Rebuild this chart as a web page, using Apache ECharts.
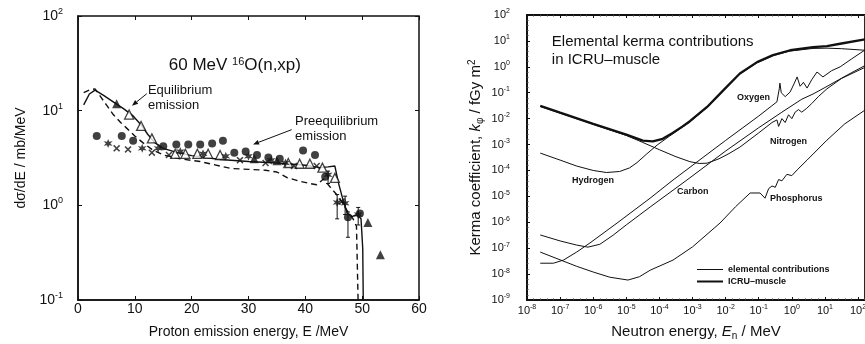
<!DOCTYPE html>
<html><head><meta charset="utf-8">
<script src="https://cdn.jsdelivr.net/npm/echarts@6/dist/echarts.min.js"></script>
<style>html,body{margin:0;padding:0;background:#fff}#c{width:865px;height:344px}</style>
</head><body><div id="c"></div>
<script>
// ===== Left panel: 60 MeV 16O(n,xp); E (MeV), dsigma/dE (mb/MeV)
const leftXRange = [0, 60];
const leftYRange = [0.1, 100];
const calcSolid = [[1.0,11.5],[2.0,15.0],[3.0,16.5],[4.5,14.5],[6.2,12.4],[8.0,10.5],[9.7,8.8],[11.0,7.2],[12.3,5.6],[13.5,4.6],[15,4.0],[17.5,3.6],[20,3.35],[25,3.05],[30,2.9],[35,2.8],[40,2.65],[42.6,2.5],[44,2.55],[45.2,2.6],[45.8,1.75],[46.7,1.1],[47.4,0.82],[48.2,0.76],[49.1,0.8],[49.8,0.72],[50.1,0.35],[50.2,0.09]];
const calcDashed = [[1.0,15.5],[2.0,16.5],[3.0,17.0],[4.0,14.0],[5.0,11.5],[6.2,9.1],[7.5,7.5],[8.6,6.5],[10,5.4],[11.4,4.6],[13,3.9],[15,3.4],[18,3.1],[21.5,2.9],[25,2.6],[27,2.45],[30,2.4],[33,2.35],[35,2.25],[36.8,1.96],[39,1.8],[40.8,1.7],[42,1.65],[43.2,1.9],[44.4,1.55],[46,1.2],[47.3,0.89],[48.4,0.72],[49.0,0.6],[49.3,0.09]];
const expCircles = [[3.3,5.4],[7.7,5.4],[9.7,4.8],[15.0,4.2],[17.3,4.4],[19.4,4.4],[21.5,4.4],[23.6,4.5],[25.5,4.8],[27.5,3.6],[29.5,3.7],[31.5,3.4],[33.5,3.2],[35.5,3.1],[39.6,3.8],[41.7,3.4],[43.5,2.0],[47.5,0.75],[49.6,0.82]];
const expOpenTri = [[9.0,9.1],[11.1,6.9],[13.0,5.1],[17.1,3.5],[18.9,3.5],[21.0,3.5],[22.9,3.5],[25.0,3.4],[37.0,2.8],[39.0,2.75],[40.8,2.75],[43.0,2.5],[45.2,1.95]];
const expFilledTri = [[6.8,11.8],[31,3.1],[35,2.95],[51.0,0.66],[53.2,0.30]];
const expCrosses = [[6.8,4.0],[8.8,3.9],[13.0,3.6],[16.0,3.4],[28.5,3.0],[33.0,2.8],[38.0,2.6],[42.0,2.6],[46.4,1.1]];
const expStars = [[5.3,4.5],[11.3,4.0],[14.1,4.0],[18.0,3.7],[22.0,3.5],[26.0,3.3],[30.0,3.3],[34.0,3.0],[36.5,2.8],[44.0,2.1],[45.6,1.07],[47.0,1.05],[49.3,0.8]];
const expErrorBars = [[44.0,1.7,2.3],[45.6,0.72,1.3],[47.0,0.8,1.25],[47.5,0.46,0.85],[49.3,0.62,0.95]];

// ===== Right panel: kerma coefficients; pairs are [log10(E/MeV), log10(k/fGy m2)]
const kermaXRangeExp = [-8, 2.21];
const kermaYRangeExp = [-9, 2];
const muscleLog = [[-7.6,-1.51],[-7,-1.77],[-6,-2.2],[-5,-2.62],[-4.5,-2.85],[-4.2,-2.88],[-3.9,-2.78],[-3.6,-2.55],[-3.3,-2.3],[-3.08,-2.1],[-2.56,-1.55],[-2.08,-0.92],[-1.57,-0.26],[-1.05,0.18],[-0.57,0.45],[-0.05,0.64],[0.64,0.76],[1.06,0.8],[1.5,0.9],[2.21,1.06]];
const hydrogenLog = [[-7.6,-3.33],[-7,-3.6],[-6.5,-3.83],[-6,-4.0],[-5.6,-4.08],[-5.2,-4.04],[-4.9,-3.9],[-4.68,-3.7],[-4.4,-3.38],[-4.07,-3.02],[-3.7,-2.68],[-3.3,-2.33],[-3.08,-2.13],[-2.56,-1.57],[-2.08,-0.94],[-1.57,-0.28],[-1.05,0.16],[-0.57,0.43],[-0.05,0.61],[0.64,0.71],[1.06,0.72],[1.5,0.7],[2.21,0.64]];
const nitrogenLog = [[-7.6,-1.53],[-6,-2.22],[-5,-2.65],[-4.5,-2.92],[-4,-3.2],[-3.5,-3.47],[-3.08,-3.66],[-2.8,-3.73],[-2.56,-3.72],[-2.2,-3.55],[-1.9,-3.35],[-1.57,-3.1],[-1.0,-2.55],[-0.6,-2.15],[-0.45,-2.05],[-0.4,-2.3],[-0.3,-2.0],[-0.2,-2.15],[-0.1,-1.85],[0,-2.0],[0.1,-1.75],[0.2,-1.65],[0.3,-1.75],[0.45,-1.6],[0.6,-1.42],[0.8,-1.15],[1.06,-0.85],[1.5,-0.45],[2.21,-0.02]];
const oxygenLog = [[-7.6,-7.58],[-7.2,-7.58],[-6.9,-7.46],[-6.5,-7.15],[-6.1,-6.8],[-5.28,-6.03],[-4.28,-5.07],[-3.59,-4.37],[-2,-2.84],[-1,-1.9],[-0.6,-1.5],[-0.45,-1.35],[-0.38,-0.85],[-0.36,-0.63],[-0.32,-1.0],[-0.2,-1.15],[-0.05,-0.97],[0.05,-0.7],[0.16,-0.39],[0.25,-0.75],[0.35,-0.6],[0.46,-0.82],[0.6,-0.5],[0.76,-0.2],[0.94,-0.39],[1.2,-0.15],[1.46,0.0],[1.8,0.3],[2.21,0.65]];
const carbonLog = [[-7.6,-6.49],[-7,-6.72],[-6.5,-6.88],[-6.16,-6.96],[-5.8,-6.85],[-5.4,-6.5],[-5,-6.1],[-4.28,-5.41],[-3.17,-4.37],[-2,-3.25],[-1,-2.35],[-0.3,-1.75],[0.3,-1.25],[0.64,-1.05],[1,-0.8],[1.67,-0.32],[2.21,0.05]];
const phosphorusLog = [[-7.6,-7.15],[-7,-7.45],[-6.5,-7.7],[-6,-7.92],[-5.5,-8.12],[-4.95,-8.23],[-4.6,-8.1],[-4.28,-7.85],[-3.59,-7.46],[-3,-6.95],[-2.17,-6.03],[-1.7,-5.4],[-1.26,-4.87],[-0.96,-4.87],[-0.81,-5.07],[-0.7,-4.7],[-0.6,-4.6],[-0.5,-4.65],[-0.4,-4.35],[-0.3,-4.4],[-0.15,-4.15],[0,-4.2],[0.16,-3.98],[0.46,-3.6],[1.06,-2.83],[1.6,-2.2],[2.21,-1.67]];

const FONT = 'Liberation Sans, Arial, sans-serif';
const INK = '#111';

function pow10Label(v) {
  const e = Math.log10(v), r = Math.round(e);
  if (Math.abs(e - r) > 1e-6) return '';
  return '10{s|' + r + '}';
}
function expLabel(v) {
  const r = Math.round(v);
  if (Math.abs(v - r) > 1e-6) return '';
  return '10{s|' + r + '}';
}
function richSup(sup) {
  return { s: { fontSize: sup, lineHeight: sup + 1, verticalAlign: 'top', color: INK, fontFamily: FONT } };
}

const crossPath = 'path://M0,15 L15,0 L50,35 L85,0 L100,15 L65,50 L100,85 L85,100 L50,65 L15,100 L0,85 L35,50 Z';
const starPath = 'path://M50,0 L61,31 L93,25 L71,50 L93,75 L61,69 L50,100 L39,69 L7,75 L29,50 L7,25 L39,31 Z';
const thinLineIcon = 'path://M0,0L0.1,0L0,0.1Z M0,3.5L26,3.5L26,4.5L0,4.5Z M25.9,8L26,8L26,7.9Z';
const thickLineIcon = 'path://M0,0L0.1,0L0,0.1Z M0,2.9L26,2.9L26,5.1L0,5.1Z M25.9,8L26,8L26,7.9Z';

const chart = echarts.init(document.getElementById('c'), null, { renderer: 'canvas' });

const tickStyle = { show: true, inside: true, length: 4, lineStyle: { color: INK, width: 1 } };
const rTick = { show: true, inside: true, length: 3, lineStyle: { color: INK, width: 1 } };
const rMinor = { show: true, splitNumber: 5, length: 1.5, lineStyle: { color: '#444', width: 1 } };

const option = {
  backgroundColor: '#fff',
  animation: false,
  textStyle: { fontFamily: FONT, color: INK },
  grid: [
    { left: 78, top: 16, width: 341, height: 284, outerBoundsMode: 'none', containLabel: false,
      show: true, borderColor: INK, borderWidth: 1.5, backgroundColor: 'transparent' },
    { left: 527, top: 15, right: 0, height: 285, outerBoundsMode: 'none', containLabel: false,
      show: true, borderColor: INK, borderWidth: 1.8, backgroundColor: 'transparent' }
  ],
  xAxis: [
    { type: 'value', gridIndex: 0, min: leftXRange[0], max: leftXRange[1], interval: 10,
      axisLine: { show: true, onZero: false, lineStyle: { color: INK, width: 1.5 } }, axisTick: tickStyle, splitLine: { show: false },
      axisLabel: { fontSize: 14, color: INK, margin: 2, fontFamily: FONT },
      name: 'Proton emission energy, E /MeV', nameLocation: 'middle', nameGap: 25,
      nameTextStyle: { fontSize: 14, color: INK, fontFamily: FONT } },
    { type: 'value', gridIndex: 0, position: 'top', min: leftXRange[0], max: leftXRange[1], interval: 10,
      axisLine: { show: false, onZero: false }, axisTick: tickStyle, axisLabel: { show: false }, splitLine: { show: false } },
    { type: 'value', gridIndex: 1, min: kermaXRangeExp[0], max: kermaXRangeExp[1], interval: 1,
      axisLine: { show: true, onZero: false, lineStyle: { color: INK, width: 1.8 } },
      axisTick: rTick, minorTick: rMinor, splitLine: { show: false }, minorSplitLine: { show: false },
      axisLabel: { fontSize: 11, color: INK, margin: 4, lineHeight: 14, fontFamily: FONT, formatter: expLabel, rich: richSup(7) },
      name: 'Neutron energy, {i|E}{sub|n} / MeV', nameLocation: 'middle', nameGap: 19,
      nameTextStyle: { fontSize: 15, color: INK, fontFamily: FONT, lineHeight: 18,
        rich: { i: { fontSize: 15, fontStyle: 'italic', color: INK, fontFamily: FONT, lineHeight: 18 },
                sub: { fontSize: 10, color: INK, fontFamily: FONT, verticalAlign: 'bottom', lineHeight: 12 } } } },
    { type: 'value', gridIndex: 1, position: 'top', min: kermaXRangeExp[0], max: kermaXRangeExp[1], interval: 1,
      axisLine: { show: false, onZero: false }, axisTick: rTick, minorTick: rMinor, axisLabel: { show: false }, splitLine: { show: false } }
  ],
  yAxis: [
    { type: 'log', gridIndex: 0, logBase: 10, min: leftYRange[0], max: leftYRange[1],
      axisLine: { show: true, onZero: false, lineStyle: { color: INK, width: 1.5 } }, axisTick: tickStyle, splitLine: { show: false },
      axisLabel: { fontSize: 14, color: INK, margin: 15, lineHeight: 18, fontFamily: FONT, formatter: pow10Label, rich: richSup(9) },
      name: 'd\u03c3/dE / mb/MeV', nameLocation: 'middle', nameGap: 50,
      nameTextStyle: { fontSize: 14, color: INK, fontFamily: FONT } },
    { type: 'log', gridIndex: 0, logBase: 10, position: 'right', min: leftYRange[0], max: leftYRange[1],
      axisLine: { show: false, onZero: false }, axisTick: tickStyle, axisLabel: { show: false }, splitLine: { show: false } },
    { type: 'value', gridIndex: 1, min: kermaYRangeExp[0], max: kermaYRangeExp[1], interval: 1,
      axisLine: { show: true, onZero: false, lineStyle: { color: INK, width: 1.8 } },
      axisTick: rTick, minorTick: rMinor, splitLine: { show: false }, minorSplitLine: { show: false },
      axisLabel: { fontSize: 11, color: INK, margin: 17, lineHeight: 14, fontFamily: FONT, formatter: expLabel, rich: richSup(7) },
      name: 'Kerma coefficient, {i|k}{sub|\u03c6} / fGy m{sup|2}', nameLocation: 'middle', nameGap: 42,
      nameTextStyle: { fontSize: 15, color: INK, fontFamily: FONT, lineHeight: 18,
        rich: { i: { fontSize: 15, fontStyle: 'italic', color: INK, fontFamily: FONT, lineHeight: 18 },
                sub: { fontSize: 10, color: INK, fontFamily: FONT, verticalAlign: 'bottom', lineHeight: 12 },
                sup: { fontSize: 10, color: INK, fontFamily: FONT, verticalAlign: 'top', lineHeight: 11 } } } },
    { type: 'value', gridIndex: 1, position: 'right', min: kermaYRangeExp[0], max: kermaYRangeExp[1], interval: 1,
      axisLine: { show: false, onZero: false }, axisTick: { show: false }, axisLabel: { show: false }, splitLine: { show: false } }
  ],
  legend: {
    left: 692, top: 260, orient: 'vertical', itemWidth: 26, itemHeight: 8, itemGap: 3, selectedMode: false,
    textStyle: { fontSize: 9, fontWeight: 'bold', color: INK, fontFamily: FONT },
    data: [
      { name: 'elemental contributions', icon: thinLineIcon, itemStyle: { color: INK } },
      { name: 'ICRU\u2013muscle', icon: thickLineIcon, itemStyle: { color: INK } }
    ]
  },
  series: [
    { type: 'line', name: 'calc solid', xAxisIndex: 0, yAxisIndex: 0, data: calcSolid, showSymbol: false, symbol: 'none',
      lineStyle: { color: INK, width: 1.4 }, z: 3 },
    { type: 'line', name: 'calc dashed', xAxisIndex: 0, yAxisIndex: 0, data: calcDashed, showSymbol: false, symbol: 'none',
      lineStyle: { color: INK, width: 1.4, type: [6, 4] }, z: 3 },
    { type: 'custom', name: 'error bars', xAxisIndex: 0, yAxisIndex: 0, data: expErrorBars, encode: { x: 0, y: [1, 2] }, z: 4,
      renderItem: function (params, api) {
        const x = api.value(0), lo = api.value(1), hi = api.value(2);
        const p1 = api.coord([x, lo]), p2 = api.coord([x, hi]);
        return { type: 'group', children: [
          { type: 'line', shape: { x1: p1[0], y1: p1[1], x2: p2[0], y2: p2[1] }, style: { stroke: INK, lineWidth: 1 } },
          { type: 'line', shape: { x1: p1[0] - 2, y1: p1[1], x2: p1[0] + 2, y2: p1[1] }, style: { stroke: INK, lineWidth: 1 } },
          { type: 'line', shape: { x1: p2[0] - 2, y1: p2[1], x2: p2[0] + 2, y2: p2[1] }, style: { stroke: INK, lineWidth: 1 } }
        ] };
      } },
    { type: 'scatter', name: 'open triangles', xAxisIndex: 0, yAxisIndex: 0, data: expOpenTri, symbol: 'triangle', symbolSize: 9,
      itemStyle: { color: '#fff', borderColor: INK, borderWidth: 1.3 }, z: 5 },
    { type: 'scatter', name: 'crosses', xAxisIndex: 0, yAxisIndex: 0, data: expCrosses, symbol: crossPath, symbolSize: 7,
      itemStyle: { color: INK }, z: 5 },
    { type: 'scatter', name: 'stars', xAxisIndex: 0, yAxisIndex: 0, data: expStars, symbol: starPath, symbolSize: 9,
      itemStyle: { color: INK }, z: 5 },
    { type: 'scatter', name: 'filled triangles', xAxisIndex: 0, yAxisIndex: 0, data: expFilledTri, symbol: 'triangle', symbolSize: 9,
      itemStyle: { color: INK }, z: 5 },
    { type: 'scatter', name: 'circles', xAxisIndex: 0, yAxisIndex: 0, data: expCircles, symbol: 'circle', symbolSize: 8,
      itemStyle: { color: INK }, z: 5 },
    // right panel (log10 coordinates on linear axes)
    { type: 'line', name: 'elemental contributions', xAxisIndex: 2, yAxisIndex: 2, data: hydrogenLog, symbol: 'none', lineStyle: { color: INK, width: 1 }, itemStyle: { color: INK } },
    { type: 'line', name: 'elemental contributions', xAxisIndex: 2, yAxisIndex: 2, data: nitrogenLog, symbol: 'none', lineStyle: { color: INK, width: 1 }, itemStyle: { color: INK } },
    { type: 'line', name: 'elemental contributions', xAxisIndex: 2, yAxisIndex: 2, data: oxygenLog, symbol: 'none', lineStyle: { color: INK, width: 1 }, itemStyle: { color: INK } },
    { type: 'line', name: 'elemental contributions', xAxisIndex: 2, yAxisIndex: 2, data: carbonLog, symbol: 'none', lineStyle: { color: INK, width: 1 }, itemStyle: { color: INK } },
    { type: 'line', name: 'elemental contributions', xAxisIndex: 2, yAxisIndex: 2, data: phosphorusLog, symbol: 'none', lineStyle: { color: INK, width: 1 }, itemStyle: { color: INK } },
    { type: 'line', name: 'ICRU\u2013muscle', xAxisIndex: 2, yAxisIndex: 2, data: muscleLog, symbol: 'none', lineStyle: { color: INK, width: 2.3 }, itemStyle: { color: INK }, z: 4 }
  ]
};
chart.setOption(option);

// ---- annotations placed in data coordinates
const L = p => chart.convertToPixel({ xAxisIndex: 0, yAxisIndex: 0 }, p);
const R = p => chart.convertToPixel({ xAxisIndex: 2, yAxisIndex: 2 }, p);

const leftNotes = [
  { at: [27.6, 30], text: '60 MeV {s|16}O(n,xp)', size: 17, align: 'center' },
  { at: [12.3, 13.8], text: 'Equilibrium\nemission', size: 13, align: 'left' },
  { at: [38.2, 6.4], text: 'Preequilibrium\nemission', size: 13, align: 'left' }
];
const leftArrows = [
  { from: [12.1, 15.1], to: [9.5, 11.3] },
  { from: [37.6, 6.3], to: [30.8, 4.4] }
];
const rightNotes = [
  { at: [-7.25, 0.62], text: 'Elemental kerma contributions\nin ICRU\u2013muscle', size: 15 },
  { at: [-6.64, -4.37], text: 'Hydrogen', size: 9 },
  { at: [-3.47, -4.83], text: 'Carbon', size: 9 },
  { at: [-1.66, -1.17], text: 'Oxygen', size: 9 },
  { at: [-0.66, -2.9], text: 'Nitrogen', size: 9 },
  { at: [-0.66, -5.1], text: 'Phosphorus', size: 9 }
];

const graphics = [];
leftNotes.forEach(n => {
  const p = L(n.at);
  graphics.push({ type: 'text', x: p[0], y: p[1], style: {
    text: n.text, fontSize: n.size, fontFamily: FONT, fill: INK, align: n.align, verticalAlign: 'middle', lineHeight: n.size + 2,
    rich: { s: { fontSize: 11, verticalAlign: 'top', lineHeight: 10, fill: INK, fontFamily: FONT } } } });
});
leftArrows.forEach(a => {
  const p1 = L(a.from), p2 = L(a.to);
  const ang = Math.atan2(p2[1] - p1[1], p2[0] - p1[0]);
  const hl = 6, hw = 2.5;
  const bx = p2[0] - hl * Math.cos(ang), by = p2[1] - hl * Math.sin(ang);
  graphics.push({ type: 'line', shape: { x1: p1[0], y1: p1[1], x2: bx, y2: by }, style: { stroke: INK, lineWidth: 1 } });
  graphics.push({ type: 'polygon', shape: { points: [
    [p2[0], p2[1]],
    [bx + hw * Math.sin(ang), by - hw * Math.cos(ang)],
    [bx - hw * Math.sin(ang), by + hw * Math.cos(ang)] ] }, style: { fill: INK } });
});
rightNotes.forEach(n => {
  const p = R(n.at);
  graphics.push({ type: 'text', x: p[0], y: p[1], style: {
    text: n.text, fontSize: n.size, fontFamily: FONT, fill: INK, align: 'left', verticalAlign: 'middle',
    lineHeight: n.size + 3, fontWeight: n.size < 12 ? 'bold' : 'normal' } });
});
chart.setOption({ graphic: graphics });
</script></body></html>
